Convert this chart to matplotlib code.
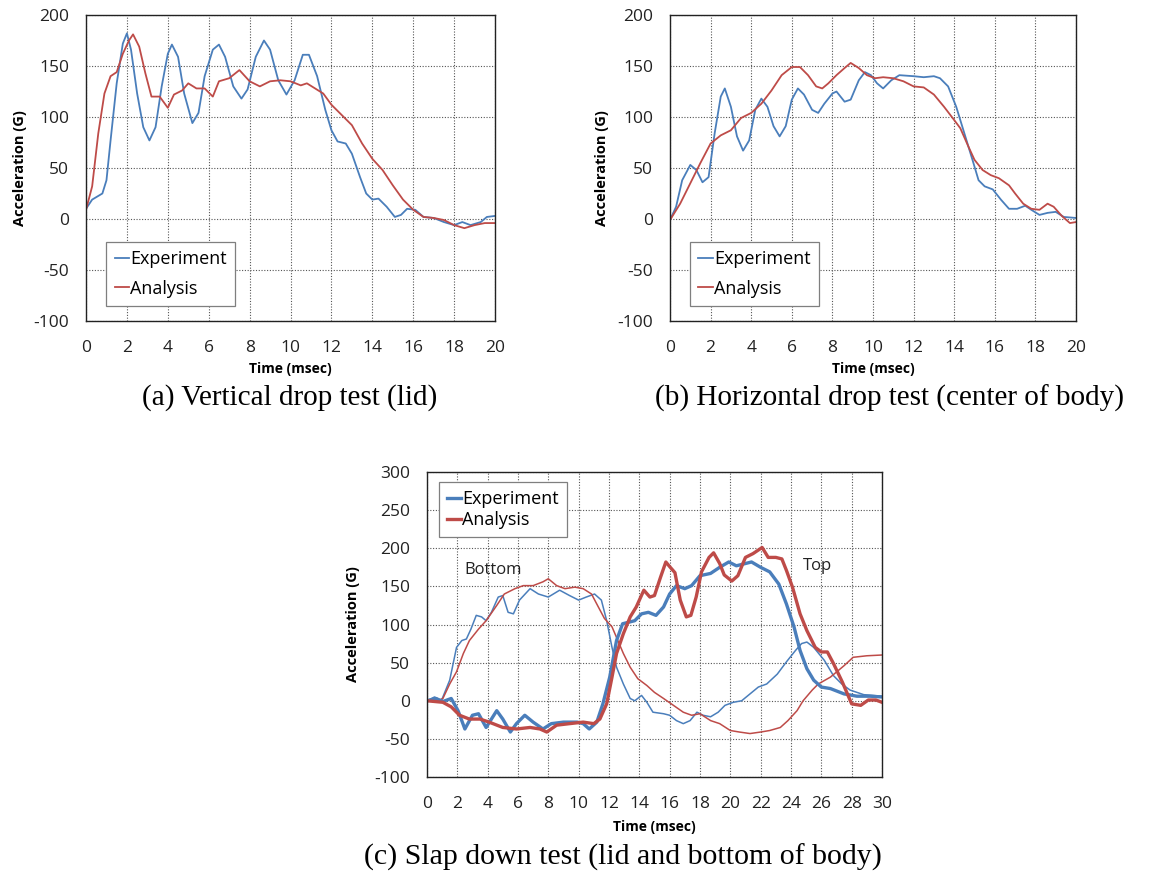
import matplotlib

matplotlib.use("Agg")
import matplotlib.pyplot as plt

plt.rcParams["font.family"] = ["Open Sans", "DejaVu Sans"]
plt.rcParams["axes.unicode_minus"] = False

BLUE = "#4a7ebb"
RED = "#be4b48"

# (a) vertical drop test (lid)
a_exp_t = [0, 0.3, 0.8, 1.0, 1.2, 1.5, 1.8, 2.0, 2.2, 2.5, 2.8, 3.1, 3.4, 3.7, 4.0, 4.2, 4.5, 4.8, 5.2, 5.5,
           5.8, 6.2, 6.5, 6.8, 7.2, 7.6, 7.9, 8.3, 8.7, 9.0, 9.4, 9.8, 10.2, 10.6, 10.9, 11.3, 11.7, 12.0, 12.3, 12.7,
           13.0, 13.4, 13.7, 14.0, 14.3, 14.7, 15.1, 15.4, 15.7, 16.1, 16.5, 17.0, 17.5, 18.0, 18.4, 18.8, 19.3, 19.6, 20]
a_exp_g = [10, 19, 25, 38, 77, 133, 172, 182, 166, 123, 90, 77, 90, 130, 162, 171, 159, 123, 94, 104,
           140, 166, 171, 159, 130, 118, 127, 159, 175, 166, 136, 122, 136, 161, 161, 140, 107, 87, 76, 74,
           64, 41, 25, 19, 20, 12, 2, 4, 10, 9, 2, 1, -3, -6, -3, -6, -3, 2, 3]
a_ana_t = [0, 0.3, 0.6, 0.9, 1.2, 1.5, 1.8, 2.1, 2.3, 2.6, 2.9, 3.2, 3.6, 4.0, 4.3, 4.7, 5.0, 5.4, 5.8, 6.2,
           6.5, 7.0, 7.5, 8.0, 8.5, 9.0, 9.5, 10.0, 10.5, 10.8, 11.2, 11.6, 12.0, 12.5, 13.0, 13.5, 14.0, 14.5, 15.0, 15.5,
           16.0, 16.5, 17.0, 17.5, 18.0, 18.5, 19.0, 19.5, 20]
a_ana_g = [9, 32, 84, 123, 140, 144, 162, 175, 181, 169, 143, 120, 120, 109, 122, 126, 133, 128, 128, 120,
           135, 138, 146, 135, 130, 135, 136, 135, 131, 133, 128, 123, 112, 102, 92, 74, 59, 48, 33, 19,
           9, 2, 1, -1, -6, -9, -6, -4, -4]

# (b) horizontal drop test (center of body)
b_exp_t = [0, 0.3, 0.6, 1.0, 1.3, 1.6, 1.9, 2.2, 2.5, 2.7, 3.0, 3.3, 3.6, 3.9, 4.2, 4.5, 4.8, 5.1, 5.4, 5.7,
           6.0, 6.3, 6.6, 7.0, 7.3, 7.6, 8.0, 8.2, 8.6, 8.9, 9.3, 9.6, 9.9, 10.2, 10.5, 10.9, 11.3, 12.0, 12.5, 13.0,
           13.3, 13.7, 14.1, 14.5, 14.9, 15.2, 15.5, 15.9, 16.3, 16.7, 17.1, 17.5, 17.8, 18.2, 18.6, 19.0, 19.4, 20]
b_exp_g = [-1, 12, 38, 53, 48, 36, 41, 84, 120, 128, 110, 81, 67, 77, 107, 118, 110, 91, 81, 91,
           117, 128, 122, 107, 104, 113, 123, 125, 115, 117, 136, 144, 141, 133, 128, 136, 141, 140, 139, 140,
           138, 130, 110, 84, 58, 38, 32, 29, 19, 10, 10, 13, 9, 4, 6, 7, 2, 1]
b_ana_t = [0, 0.5, 1.0, 1.5, 2.0, 2.5, 3.0, 3.5, 4.0, 4.5, 5.0, 5.5, 6.0, 6.4, 6.8, 7.2, 7.5, 7.8, 8.2, 8.6,
           8.9, 9.3, 9.7, 10.1, 10.5, 11.0, 11.5, 12.0, 12.5, 13.0, 13.5, 14.0, 14.3, 14.7, 15.0, 15.4, 15.8, 16.2, 16.7, 17.0,
           17.4, 17.8, 18.2, 18.6, 18.9, 19.3, 19.7, 20]
b_ana_g = [-1, 15, 35, 55, 74, 82, 87, 99, 104, 113, 126, 141, 149, 149, 141, 130, 128, 133, 141, 148,
           153, 148, 141, 138, 139, 138, 135, 130, 129, 122, 110, 97, 89, 71, 58, 48, 43, 40, 33, 25,
           15, 10, 9, 15, 12, 3, -4, -3]

# (c) slap down test: lid ("Top", thick) and bottom of body ("Bottom", thin)
c_top_exp_t = [0, 0.6, 1.05, 1.6, 2.05, 2.5, 3.0, 3.4, 3.9, 4.6, 5.0, 5.5, 5.9, 6.45, 7.0, 7.65, 8.2, 9.0, 9.9, 10.3,
               10.7, 11.2, 11.6, 12.05, 12.5, 12.9, 13.3, 13.7, 14.15, 14.6, 15.1, 15.6, 16.0, 16.45, 17.0, 17.45, 18.0, 18.7, 19.3, 19.9,
               20.4, 21.0, 21.4, 22.0, 22.6, 23.2, 23.7, 24.2, 24.6, 25.05, 25.5, 26.0, 26.6, 27.5, 28.35, 29.2, 30]
c_top_exp_g = [0, 3, -1, 3, -13, -37, -19, -17, -35, -13, -24, -41, -30, -19, -28, -37, -30, -28, -28, -30,
               -37, -28, -4, 31, 79, 101, 103, 105, 114, 116, 112, 123, 140, 151, 147, 151, 164, 167, 175, 182,
               177, 180, 182, 175, 169, 153, 127, 97, 66, 42, 27, 18, 16, 9, 6, 6, 5]
c_top_ana_t = [0, 1.05, 1.6, 2.15, 2.8, 3.5, 4.1, 5.0, 5.9, 6.8, 7.45, 7.9, 8.55, 9.4, 10.3, 11.0, 11.4, 11.85, 12.2, 12.5,
               12.95, 13.4, 13.8, 14.3, 14.7, 15.0, 15.4, 15.75, 16.0, 16.35, 16.7, 17.1, 17.4, 17.75, 18.1, 18.6, 18.9, 19.3, 19.6, 20.1,
               20.5, 21.0, 21.5, 22.1, 22.5, 23.0, 23.4, 23.7, 24.1, 24.6, 25.05, 25.6, 26.0, 26.4, 26.8, 27.4, 28.0, 28.6, 29.1, 29.6, 30]
c_top_ana_g = [0, -2, -8, -19, -24, -24, -28, -35, -37, -35, -37, -41, -32, -30, -28, -30, -24, -4, 31, 62,
               88, 110, 123, 145, 136, 138, 162, 182, 176, 168, 132, 110, 112, 136, 169, 188, 194, 180, 165, 157,
               164, 188, 193, 201, 188, 188, 186, 171, 149, 114, 92, 70, 64, 64, 49, 24, -4, -6, 1, 1, -2]
c_bot_exp_t = [0, 0.5, 0.95, 1.5, 1.95, 2.3, 2.6, 2.9, 3.25, 3.6, 3.9, 4.25, 4.7, 5.0, 5.35, 5.7, 6.1, 6.8, 7.35, 8.0,
               8.75, 9.4, 10.0, 10.5, 11.05, 11.5, 11.85, 12.2, 12.5, 12.95, 13.4, 13.7, 14.15, 14.5, 14.9, 15.6, 16.0, 16.45, 16.9, 17.35,
               17.8, 18.2, 18.7, 19.2, 19.65, 20.2, 20.75, 21.3, 21.85, 22.4, 23.1, 23.7, 24.3, 24.7, 25.05, 25.5, 26.2, 26.8, 27.35, 27.9,
               28.8, 30]
c_bot_exp_g = [0, 5, 0, 27, 70, 79, 81, 94, 112, 110, 105, 116, 136, 138, 116, 114, 132, 147, 140, 136,
               145, 138, 132, 136, 140, 132, 105, 70, 44, 22, 3, 0, 7, -2, -15, -17, -19, -26, -30, -26,
               -15, -19, -21, -15, -6, -2, 0, 9, 18, 22, 35, 51, 66, 75, 77, 70, 53, 33, 22, 14,
               8, 6]
c_bot_ana_t = [0, 0.6, 1.05, 1.5, 1.95, 2.4, 2.8, 3.4, 3.9, 4.6, 5.1, 5.8, 6.35, 7.0, 7.65, 8.0, 8.55, 9.1, 9.75, 10.3,
               10.85, 11.3, 11.7, 12.2, 12.5, 12.95, 13.4, 13.9, 14.5, 15.0, 15.6, 16.25, 16.9, 17.45, 18.0, 18.7, 19.3, 20.0, 20.6, 21.3,
               22.0, 22.6, 23.3, 23.8, 24.4, 24.8, 25.4, 25.8, 26.6, 27.5, 28.1, 29.0, 30]
c_bot_ana_g = [0, -1, 3, 22, 38, 62, 79, 94, 105, 125, 140, 147, 151, 151, 156, 160, 151, 147, 149, 147,
               140, 123, 108, 97, 83, 62, 44, 29, 20, 11, 3, -6, -15, -19, -17, -26, -30, -39, -41, -43,
               -41, -39, -35, -26, -13, 0, 14, 22, 31, 46, 57, 59, 60]

captions = [
    "(a) Vertical drop test (lid)",
    "(b) Horizontal drop test (center of body)",
    "(c) Slap down test (lid and bottom of body)",
]

fig = plt.figure(figsize=(11.64, 8.77), dpi=100)
ax_a = fig.add_axes([0.0739, 0.6340, 0.3514, 0.3489])
ax_b = fig.add_axes([0.5756, 0.6340, 0.3488, 0.3489])
ax_c = fig.add_axes([0.3668, 0.1140, 0.3909, 0.3478])


def style_axes(ax, xmax, ymax, ylab_x):
    ax.set_xlim(0, xmax)
    ax.set_ylim(-100, ymax)
    ax.set_xticks(range(0, xmax + 1, 2))
    ax.set_yticks(range(-100, ymax + 1, 50))
    ax.grid(True, color="#555555", linestyle=(0, (1, 1.5)), linewidth=0.8)
    ax.set_axisbelow(True)
    ax.tick_params(axis="both", length=0, labelsize=12.5, colors="#222222")
    ax.tick_params(axis="y", pad=12)
    ax.tick_params(axis="x", pad=14)
    for s in ax.spines.values():
        s.set_color("#222222")
        s.set_linewidth(1.0)
    ax.set_xlabel("Time (msec)", fontsize=10, fontweight="bold")
    ax.set_ylabel("Acceleration (G)", fontsize=10.5, fontweight="bold")
    ax.xaxis.set_label_coords(0.5, -0.135)
    ax.yaxis.set_label_coords(ylab_x, 0.5)


def add_legend(ax, anchor, loc, spacing, lw):
    leg = ax.legend(
        loc=loc,
        bbox_to_anchor=anchor,
        fontsize=13,
        frameon=True,
        fancybox=False,
        framealpha=1,
        edgecolor="#7f7f7f",
        handlelength=0.8,
        handletextpad=0.05,
        borderpad=0.45,
        labelspacing=spacing,
        borderaxespad=0,
    )
    leg.get_frame().set_linewidth(0.9)
    for h in leg.get_lines():
        h.set_linewidth(lw)


ax_a.plot(a_exp_t, a_exp_g, color=BLUE, lw=1.3, label="Experiment")
ax_a.plot(a_ana_t, a_ana_g, color=RED, lw=1.3, label="Analysis")
style_axes(ax_a, 20, 200, -0.145)
add_legend(ax_a, (0.05, 0.05), "lower left", 0.65, 1.3)

ax_b.plot(b_exp_t, b_exp_g, color=BLUE, lw=1.3, label="Experiment")
ax_b.plot(b_ana_t, b_ana_g, color=RED, lw=1.3, label="Analysis")
style_axes(ax_b, 20, 200, -0.15)
add_legend(ax_b, (0.05, 0.05), "lower left", 0.65, 1.3)

ax_c.plot(c_bot_exp_t, c_bot_exp_g, color=BLUE, lw=1.1)
ax_c.plot(c_bot_ana_t, c_bot_ana_g, color=RED, lw=1.1)
ax_c.plot(c_top_exp_t, c_top_exp_g, color=BLUE, lw=2.4, label="Experiment")
ax_c.plot(c_top_ana_t, c_top_ana_g, color=RED, lw=2.4, label="Analysis")
style_axes(ax_c, 30, 300, -0.148)
ax_c.xaxis.set_label_coords(0.5, -0.14)
add_legend(ax_c, (0.026, 0.967), "upper left", 0.15, 2.4)
ax_c.text(2.5, 171, "Bottom", fontsize=12, va="center", ha="left", color="#222222")
ax_c.text(24.8, 177, "Top", fontsize=12, va="center", ha="left", color="#222222")

cap_font = dict(family="Liberation Serif", ha="center", va="center")
fig.text(290 / 1164, 1 - 398 / 877, captions[0], fontsize=21, **cap_font)
fig.text(890 / 1164, 1 - 398 / 877, captions[1], fontsize=21, **cap_font)
fig.text(623 / 1164, 1 - 857 / 877, captions[2], fontsize=21.5, **cap_font)

fig.savefig("out.png", dpi=100)
plt.close(fig)
